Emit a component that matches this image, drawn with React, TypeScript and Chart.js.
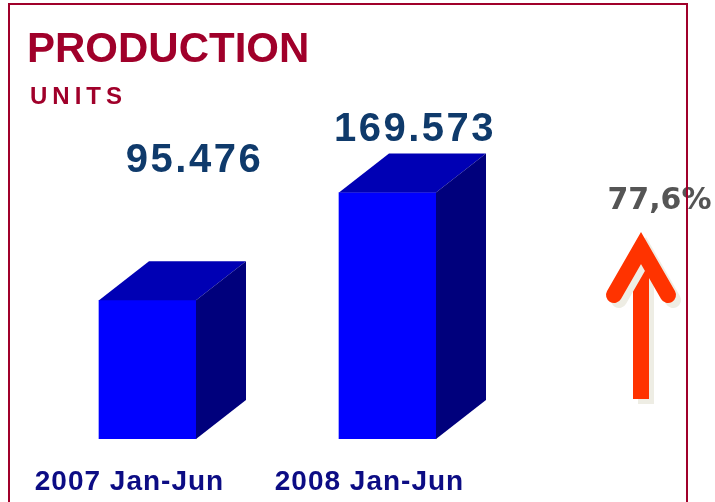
import React, { useEffect, useRef } from "react";
import { Chart, registerables } from "chart.js";

Chart.register(...registerables);

const categories = ["2007 Jan-Jun", "2008 Jan-Jun"];
const production = [95476, 169573];
const valueLabels = ["95.476", "169.573"];
const growthLabel = "77,6%";
const titleText = "PRODUCTION";
const subtitleText = "UNITS";

const FRONT = "#0000ff";
const TOP = "#0000b4";
const SIDE = "#00007c";
const DEPTH_X = 50;
const DEPTH_Y = 39;

const decorPlugin = {
  id: "decor",
  beforeDraw(chart: any) {
    const ctx = chart.ctx;
    ctx.save();
    ctx.fillStyle = "#ffffff";
    ctx.fillRect(0, 0, chart.width, chart.height);
    ctx.restore();
  },
  afterDatasetsDraw(chart: any) {
    const ctx = chart.ctx;
    const meta = chart.getDatasetMeta(0);
    ctx.save();
    meta.data.forEach((el: any) => {
      const w = el.width;
      const l = el.x - w / 2;
      const r = el.x + w / 2;
      const y = el.y;
      const b = el.base;
      ctx.fillStyle = TOP;
      ctx.beginPath();
      ctx.moveTo(l, y);
      ctx.lineTo(l + DEPTH_X, y - DEPTH_Y);
      ctx.lineTo(r + DEPTH_X, y - DEPTH_Y);
      ctx.lineTo(r, y);
      ctx.closePath();
      ctx.fill();
      ctx.fillStyle = SIDE;
      ctx.beginPath();
      ctx.moveTo(r, y);
      ctx.lineTo(r + DEPTH_X, y - DEPTH_Y);
      ctx.lineTo(r + DEPTH_X, b - DEPTH_Y);
      ctx.lineTo(r, b);
      ctx.closePath();
      ctx.fill();
    });

    // value labels
    const labelShift = [
      { dx: 47, dy: -128 },
      { dx: 27.5, dy: -52 },
    ];
    ctx.fillStyle = "#0f3a6b";
    ctx.font = "bold 40px 'Liberation Sans', Arial, sans-serif";
    ctx.textAlign = "center";
    ctx.textBaseline = "alphabetic";
    (ctx as any).letterSpacing = "2.5px";
    meta.data.forEach((el: any, i: number) => {
      const s = labelShift[i];
      ctx.fillText(valueLabels[i], el.x + s.dx, el.y + s.dy);
    });

    // category labels
    ctx.fillStyle = "#0c0c84";
    ctx.font = "bold 28px 'Liberation Sans', Arial, sans-serif";
    (ctx as any).letterSpacing = "1px";
    const xs = chart.scales.x;
    categories.forEach((c, i) => {
      ctx.fillText(c, xs.getPixelForValue(i) - 18, 490);
    });
    (ctx as any).letterSpacing = "0px";

    // title
    ctx.textAlign = "left";
    ctx.fillStyle = "#a0002a";
    ctx.font = "bold 42px 'Liberation Sans', Arial, sans-serif";
    ctx.fillText(titleText, 27, 62);
    ctx.font = "bold 24px 'Liberation Sans', Arial, sans-serif";
    (ctx as any).letterSpacing = "5px";
    ctx.fillText(subtitleText, 30, 104);
    (ctx as any).letterSpacing = "0px";

    // arrow
    ctx.save();
    ctx.shadowColor = "#eeede4";
    ctx.shadowOffsetX = 5;
    ctx.shadowOffsetY = 5;
    ctx.shadowBlur = 0;
    ctx.fillStyle = "#ff3300";
    ctx.strokeStyle = "#ff3300";
    ctx.fillRect(633, 252, 16, 147);
    ctx.lineWidth = 16;
    ctx.lineCap = "round";
    ctx.lineJoin = "miter";
    ctx.miterLimit = 10;
    ctx.beginPath();
    ctx.moveTo(614, 295);
    ctx.lineTo(641, 248);
    ctx.lineTo(668, 295);
    ctx.stroke();
    ctx.restore();

    // growth label
    ctx.fillStyle = "#555555";
    ctx.font = "bold 30px 'DejaVu Sans', Verdana, sans-serif";
    ctx.textAlign = "center";
    ctx.fillText(growthLabel, 659.5, 209);

    // frame
    ctx.strokeStyle = "#a0002a";
    ctx.lineWidth = 2;
    ctx.beginPath();
    ctx.moveTo(9, 520);
    ctx.lineTo(9, 4);
    ctx.lineTo(687, 4);
    ctx.lineTo(687, 520);
    ctx.stroke();
    ctx.restore();
  },
};

export default function App() {
  const ref = useRef<HTMLCanvasElement>(null);
  useEffect(() => {
    if (!ref.current) return;
    const chart = new Chart(ref.current, {
      type: "bar",
      data: {
        labels: categories,
        datasets: [
          {
            data: production,
            backgroundColor: FRONT,
            borderWidth: 0,
            barThickness: 97,
          },
        ],
      },
      options: {
        animation: false,
        responsive: false,
        layout: { padding: { left: 27.5, right: 207.5, top: 148.4, bottom: 63 } },
        scales: {
          x: { display: false },
          y: { display: false, min: 0, max: 200000 },
        },
        plugins: { legend: { display: false }, tooltip: { enabled: false }, title: { display: false } },
      },
      plugins: [decorPlugin],
    });
    return () => chart.destroy();
  }, []);
  return (
    <div style={{ position: "fixed", left: 0, top: 0, width: 715, height: 502, background: "#fff" }}>
      <canvas ref={ref} width={715} height={502} />
    </div>
  );
}
